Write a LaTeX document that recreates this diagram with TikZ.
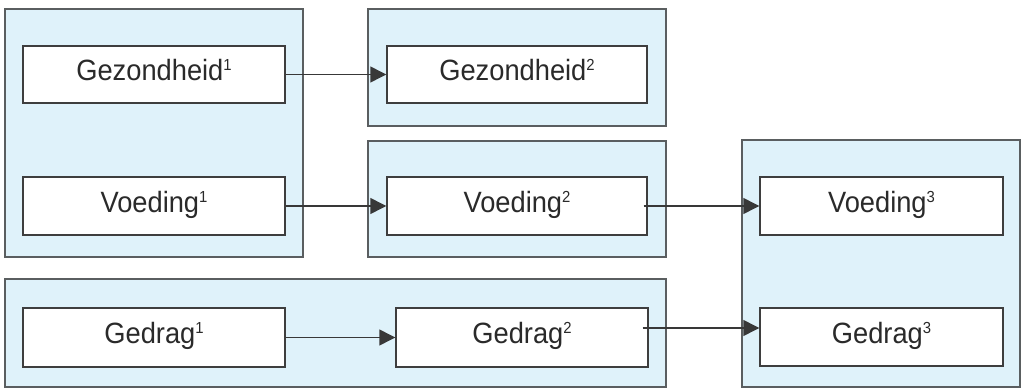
\documentclass[tikz,border=0pt]{standalone}
\usepackage{fontspec}
\setmainfont[FakeStretch=0.93]{Liberation Sans}
\usetikzlibrary{fit,calc,arrows.meta}

\definecolor{panelfill}{HTML}{DFF2FA}
\definecolor{panelline}{HTML}{5A5E60}
\definecolor{boxline}{HTML}{3E3E3E}
\definecolor{inkdark}{HTML}{2A2A2A}
\definecolor{arrowcol}{HTML}{383838}

% raised index digit after a variable name
\newcommand{\wave}[1]{\raisebox{7.6pt}{\fontsize{12}{12}\selectfont #1}}

\tikzset{
  panel/.style={draw=panelline, fill=panelfill, line width=1.1pt, inner sep=0pt},
  varbox/.style={draw=boxline, fill=white, line width=1.1pt, inner sep=0pt,
    text=inkdark, font=\fontsize{22}{22}\selectfont,
    text height=12pt, text depth=2.7pt},
  flow/.style={draw=arrowcol, line width=1.1pt,
    -{Triangle[length=12pt,width=12pt]}}
}

\begin{document}
\begin{tikzpicture}[x=0.75pt,y=-0.75pt]
  \useasboundingbox (0,0) rectangle (1021,388);

  % grouping panels
  \node[panel, fit={(5,9)(303,257)}]   (p1) {};
  \node[panel, fit={(368,9)(666,126)}] (p2) {};
  \node[panel, fit={(368,141)(666,257)}] (p3) {};
  \node[panel, fit={(5,279)(666,387)}] (p5) {};
  \node[panel, fit={(742,140)(1020,387)}] (p4) {};

  % variables
  \node[varbox, minimum width=196.5pt, minimum height=42.75pt] (gez1) at (154,74.5) {Gezondheid\wave{1}};
  \node[varbox, minimum width=196.5pt, minimum height=43.5pt]  (voe1) at (154,206)  {Voeding\wave{1}};
  \node[varbox, minimum width=195pt,   minimum height=42.75pt] (gez2) at (517,74.5) {Gezondheid\wave{2}};
  \node[varbox, minimum width=195pt,   minimum height=43.5pt]  (voe2) at (517,206)  {Voeding\wave{2}};
  \node[varbox, minimum width=182.25pt, minimum height=43.5pt] (voe3) at (881.5,206) {Voeding\wave{3}};
  \node[varbox, minimum width=182.25pt, minimum height=43.5pt] (ged3) at (881.5,337) {Gedrag\wave{3}};
  \node[varbox, minimum width=196.5pt, minimum height=44.25pt] (ged1) at (154,337.5) {Gedrag\wave{1}};
  \node[varbox, minimum width=189pt,   minimum height=44.25pt] (ged2) at (522,337.5) {Gedrag\wave{2}};

  % connectors
  \draw[flow] (gez1.east) -- (gez2.west);
  \draw[flow] (voe1.east) -- (voe2.west);
  \draw[flow] (ged1.east) -- (ged2.west);

  \coordinate (voe2out) at ($(voe2.east)+(-4,0)$);
  \draw[flow] (voe2out) -- (voe2out -| voe3.west);

  \coordinate (ged2out) at ($(ged2.east)+(-6,-9.5)$);
  \draw[flow] (ged2out) -- (ged2out -| ged3.west);
\end{tikzpicture}
\end{document}
